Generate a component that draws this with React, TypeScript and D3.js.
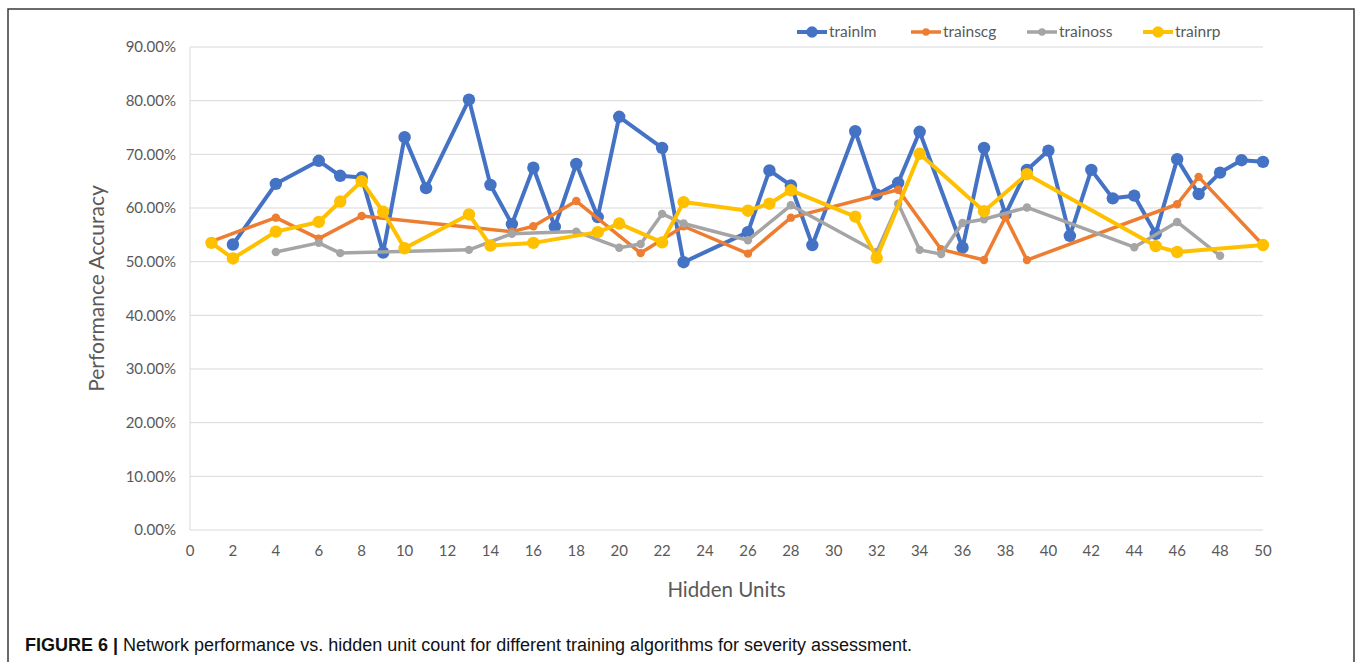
import React from "react";
import * as d3 from "d3";

const seriesNames = ["trainlm", "trainscg", "trainoss", "trainrp"];
const seriesColors = ["#4472C4", "#ED7D31", "#A5A5A5", "#FFC000"];

const lmX = [2, 4, 6, 7, 8, 9, 10, 11, 13, 14, 15, 16, 17, 18, 19, 20, 22, 23, 26, 27, 28, 29, 31, 32, 33, 34, 36, 37, 38, 39, 40, 41, 42, 43, 44, 45, 46, 47, 48, 49, 50];
const lmY = [53.2, 64.5, 68.8, 66.0, 65.7, 51.7, 73.2, 63.7, 80.2, 64.3, 57.0, 67.5, 56.5, 68.2, 58.3, 77.0, 71.2, 49.9, 55.5, 67.0, 64.2, 53.1, 74.3, 62.5, 64.7, 74.2, 52.6, 71.2, 58.8, 67.1, 70.7, 54.8, 67.1, 61.8, 62.3, 55.2, 69.1, 62.6, 66.6, 68.9, 68.6];

const scgX = [1, 4, 6, 8, 15, 16, 18, 21, 23, 26, 28, 33, 35, 37, 38, 39, 46, 47, 50];
const scgY = [53.8, 58.2, 54.3, 58.5, 55.6, 56.6, 61.3, 51.6, 56.6, 51.5, 58.2, 63.4, 52.3, 50.3, 58.3, 50.3, 60.7, 65.8, 53.1];

const ossX = [4, 6, 7, 13, 15, 18, 20, 21, 22, 23, 26, 28, 32, 33, 34, 35, 36, 37, 39, 44, 46, 48];
const ossY = [51.8, 53.5, 51.6, 52.2, 55.2, 55.6, 52.6, 53.3, 58.9, 57.1, 54.0, 60.5, 51.8, 60.8, 52.2, 51.4, 57.2, 57.9, 60.1, 52.7, 57.4, 51.1];

const rpX = [1, 2, 4, 6, 7, 8, 9, 10, 13, 14, 16, 19, 20, 22, 23, 26, 27, 28, 31, 32, 34, 37, 39, 45, 46, 50];
const rpY = [53.5, 50.6, 55.6, 57.4, 61.2, 65.0, 59.3, 52.5, 58.8, 53.0, 53.5, 55.5, 57.1, 53.6, 61.1, 59.5, 60.8, 63.3, 58.4, 50.7, 70.1, 59.4, 66.3, 52.9, 51.8, 53.1];

const xTicks = d3.range(0, 51, 2);
const yTicks = d3.range(0, 91, 10);

const xTitle = "Hidden Units";
const yTitle = "Performance Accuracy";
const captionBold = "FIGURE 6 |";
const captionText = " Network performance vs. hidden unit count for different training algorithms for severity assessment.";

const W = 1357;
const H = 662;
const left = 190;
const right = 1263;
const top = 47;
const bottom = 530;

export default function App() {
  const x = d3.scaleLinear().domain([0, 50]).range([left, right]);
  const y = d3.scaleLinear().domain([0, 90]).range([bottom, top]);
  const line = d3
    .line<[number, number]>()
    .x((d) => x(d[0]))
    .y((d) => y(d[1]));

  const series = [
    { xs: lmX, ys: lmY, r: 6.2, w: 4 },
    { xs: scgX, ys: scgY, r: 4.2, w: 3.5 },
    { xs: ossX, ys: ossY, r: 4.2, w: 3.5 },
    { xs: rpX, ys: rpY, r: 6.2, w: 4 },
  ];

  const font = "Lato, 'Open Sans', sans-serif";
  const textCol = "#595959";
  const legendX = [797, 911, 1027, 1143];

  return (
    <svg
      width={W}
      height={H}
      style={{ position: "fixed", left: 0, top: 0, background: "#fff" }}
    >
      <rect x={0} y={0} width={W} height={H} fill="#fff" />
      {/* frame */}
      <path d={`M8,${H} L8,9 L1354,9 L1354,${H}`} fill="none" stroke="#3a3a3a" strokeWidth={1.5} />

      {/* gridlines */}
      {yTicks.map((t) => (
        <line key={t} x1={left} x2={right} y1={y(t)} y2={y(t)} stroke="#d9d9d9" strokeWidth={1} />
      ))}
      <line x1={left} x2={left} y1={top} y2={bottom} stroke="#d9d9d9" strokeWidth={1} />

      {/* y ticks */}
      {yTicks.map((t) => (
        <text key={t} x={176} y={y(t)} dy="0.35em" textAnchor="end" fontFamily={font} fontSize={15} fill={textCol}>
          {t.toFixed(2) + "%"}
        </text>
      ))}
      {/* x ticks */}
      {xTicks.map((t) => (
        <text key={t} x={x(t)} y={551} dy="0.35em" textAnchor="middle" fontFamily={font} fontSize={15} fill={textCol}>
          {t}
        </text>
      ))}

      <text x={(left + right) / 2} y={590} dy="0.35em" textAnchor="middle" fontFamily={font} fontSize={20.5} fill={textCol}>
        {xTitle}
      </text>
      <text
        transform={`translate(97,${(top + bottom) / 2}) rotate(-90)`}
        textAnchor="middle"
        dy="0.35em"
        fontFamily={font}
        fontSize={21}
        fill={textCol}
      >
        {yTitle}
      </text>

      {/* series */}
      {series.map((s, i) => {
        const pts = s.xs.map((xv, j) => [xv, s.ys[j]] as [number, number]);
        return (
          <g key={i}>
            <path d={line(pts) || ""} fill="none" stroke={seriesColors[i]} strokeWidth={s.w} strokeLinejoin="round" />
            {pts.map((p, j) => (
              <circle key={j} cx={x(p[0])} cy={y(p[1])} r={s.r} fill={seriesColors[i]} />
            ))}
          </g>
        );
      })}

      {/* legend */}
      {seriesNames.map((n, i) => (
        <g key={n} transform={`translate(${legendX[i]},32)`}>
          <line x1={0} x2={30} y1={0} y2={0} stroke={seriesColors[i]} strokeWidth={series[i].w} />
          <circle cx={15} cy={0} r={series[i].r - 0.5} fill={seriesColors[i]} />
          <text x={32} y={0} dy="0.35em" fontFamily={font} fontSize={15.5} fill={textCol}>
            {n}
          </text>
        </g>
      ))}

      {/* caption */}
      <text x={25} y={645} dy="0.35em" fontFamily="'Liberation Sans', Arial, sans-serif" fontSize={18} fill="#111">
        <tspan fontWeight="bold">{captionBold}</tspan>
        <tspan>{captionText}</tspan>
      </text>
    </svg>
  );
}
